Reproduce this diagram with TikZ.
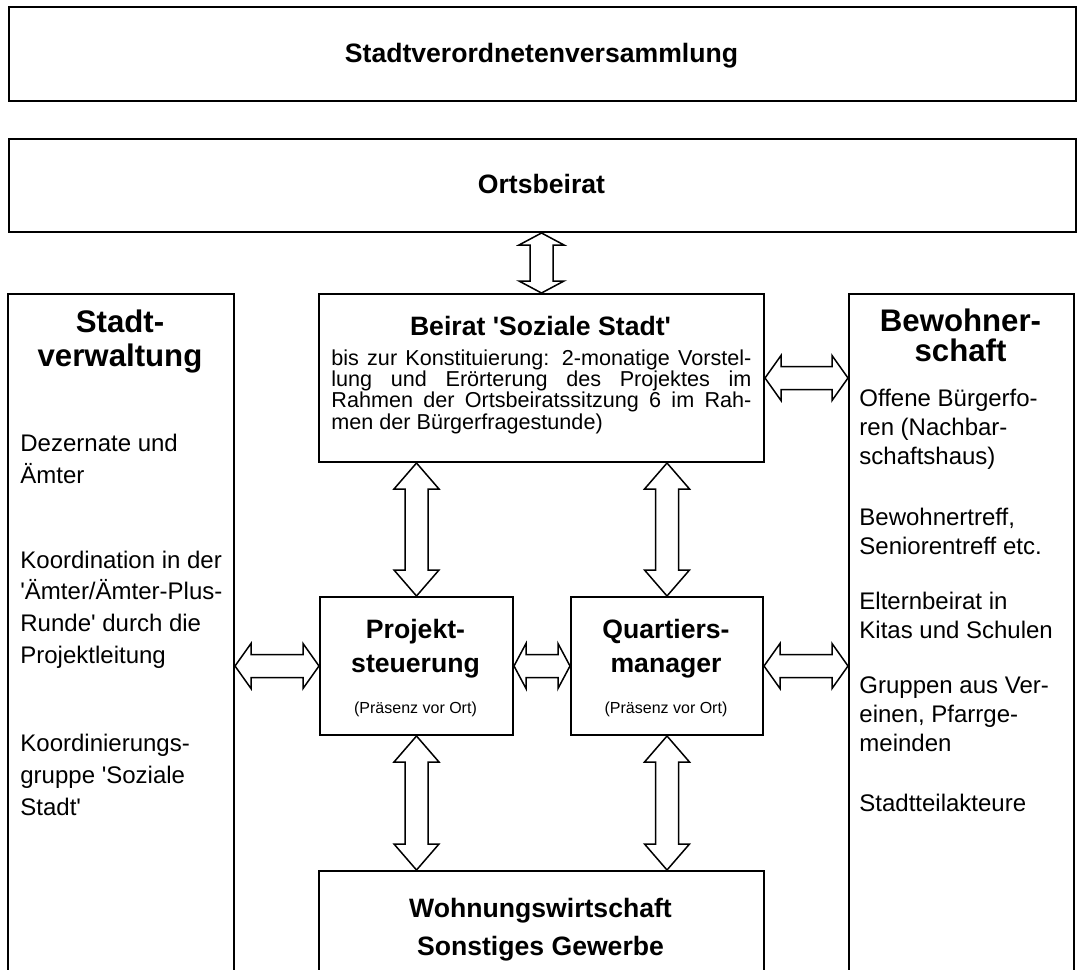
\documentclass[tikz,border=0pt]{standalone}
\usepackage{fontspec}
\setmainfont{Liberation Sans}
\usetikzlibrary{calc}

\newcommand{\titlefont}{\fontsize{13.3pt}{17pt}\selectfont\bfseries}
\newcommand{\headfont}{\fontsize{15.6pt}{17pt}\selectfont\bfseries}
\newcommand{\listfont}{\fontsize{12pt}{15.8pt}\selectfont}
\newcommand{\listfontr}{\fontsize{12pt}{14.5pt}\selectfont}
\newcommand{\bodyfont}{\fontsize{10.8pt}{10.6pt}\selectfont}
\newcommand{\notefont}{\fontsize{8pt}{9pt}\selectfont}
\newcommand{\sq}{\textquotesingle}

% hollow double block arrow: #1 head length, #2 from, #3 to
\newcommand{\dblarrow}[3]{%
  \draw[hollow] (#2)
    -- ($(#2)!#1!(#3)!11.25pt!90:(#3)$)
    -- ($(#2)!#1!(#3)!5.75pt!90:(#3)$)
    -- ($(#3)!#1!(#2)!5.75pt!-90:(#2)$)
    -- ($(#3)!#1!(#2)!11.25pt!-90:(#2)$)
    -- (#3)
    -- ($(#3)!#1!(#2)!11.25pt!90:(#2)$)
    -- ($(#3)!#1!(#2)!5.75pt!90:(#2)$)
    -- ($(#2)!#1!(#3)!5.75pt!-90:(#3)$)
    -- ($(#2)!#1!(#3)!11.25pt!-90:(#3)$)
    -- cycle;}

\begin{document}
\begin{tikzpicture}[x=0.5pt,y=-0.5pt]
    % Define styles
    \tikzset{box/.style={draw,line width=1pt,inner sep=0pt,anchor=north west},
             title/.style={font=\titlefont,inner sep=0pt,anchor=base,align=center},
             head/.style={font=\headfont,inner sep=0pt,anchor=base,align=center},
             item/.style={font=\listfont,inner sep=0pt,anchor=base west,align=left},
             itemr/.style={item,font=\listfontr},
             note/.style={font=\notefont,inner sep=0pt,anchor=base},
             hollow/.style={draw,fill=white,line width=0.75pt,line join=miter}}

    \useasboundingbox (0,0) rectangle (1080,969);
    \fill[white] (0,0) rectangle (1080,969);
    \clip (0,0) rectangle (1080,969);

    % Draw boxes
    \node[box,minimum width=533.5pt,minimum height=47pt] (versamm) at (8,6) {};
    \node[box,minimum width=533.5pt,minimum height=46.5pt] (orts) at (8,138) {};
    \node[box,minimum width=113pt,minimum height=360pt] (verwaltung) at (7,293) {};
    \node[box,minimum width=112.5pt,minimum height=360pt] (bewohner) at (848,293) {};
    \node[box,minimum width=222.5pt,minimum height=84pt] (beirat) at (318,293) {};
    \node[box,minimum width=96.5pt,minimum height=69pt] (projekt) at (319,596) {};
    \node[box,minimum width=96pt,minimum height=69pt] (quartier) at (570,596) {};
    \node[box,minimum width=222.5pt,minimum height=75pt] (wohnung) at (318,870) {};

    % Titles (base = last line)
    \node[title] (versammtxt) at (541.5,62) {Stadtverordnetenversammlung};
    \node[title] (ortstxt) at (541.5,193) {Ortsbeirat};
    \node[title] (beirattxt) at (540.5,335) {Beirat \sq Soziale Stadt\sq};
    \node[title] (projekttxt) at (415.5,672) {Projekt-\\steuerung};
    \node[title] (quartiertxt) at (666,672) {Quartiers-\\manager};
    \node[title] (wohnungtxt) at (540.5,955) {Wohnungswirtschaft\\[2pt]Sonstiges Gewerbe};
    \node[note] (projektnote) at (415.5,713) {(Präsenz vor Ort)};
    \node[note] (quartiernote) at (666,713) {(Präsenz vor Ort)};

    \node[font=\bodyfont,inner sep=0pt,anchor=base west,align=left] (beiratbody) at (331,429)
        {\makebox[210pt][s]{bis zur Konstituierung: 2-monatige Vorstel-}\\
         \makebox[210pt][s]{lung und Erörterung des Projektes im}\\
         \makebox[210pt][s]{Rahmen der Ortsbeiratssitzung 6 im Rah-}\\
         men der Bürgerfragestunde)};

    % Stadtverwaltung column
    \node[head] (verwaltungtxt) at (120,366) {Stadt-\\verwaltung};
    \node[item] (dezernate) at (20,483.3) {Dezernate und\\Ämter};
    \node[item] (koordination) at (20,663) {Koordination in der\\\sq Ämter/Ämter-Plus-\\Runde\sq{} durch die\\Projektleitung};
    \node[item] (kgruppe) at (20,815) {Koordinierungs-\\gruppe \sq Soziale\\Stadt\sq};

    % Bewohnerschaft column
    \node[head,font=\fontsize{15.6pt}{15pt}\selectfont\bfseries] (bewohnertxt) at (960.5,361) {Bewohner-\\schaft};
    \node[itemr] (foren) at (859,464.5) {Offene Bürgerfo-\\ren (Nachbar-\\schaftshaus)};
    \node[itemr] (treff) at (859,554.5) {Bewohnertreff,\\Seniorentreff etc.};
    \node[itemr] (eltern) at (859,638.5) {Elternbeirat in\\Kitas und Schulen};
    \node[itemr] (gruppen) at (859,751) {Gruppen aus Ver-\\einen, Pfarrge-\\meinden};
    \node[itemr] (akteure) at (859,811) {Stadtteilakteure};

    % Draw arrows
    \dblarrow{6pt}{orts.south -| beirat.north}{beirat.north}
    \dblarrow{8pt}{beirat.east}{bewohner.west |- beirat.east}
    \foreach \n in {projekt,quartier}
    {
        \dblarrow{13pt}{beirat.south -| \n.north}{\n.north}
        \dblarrow{13pt}{\n.south}{wohnung.north -| \n.south}
    }
    \dblarrow{8pt}{verwaltung.east |- projekt.west}{projekt.west}
    \dblarrow{6pt}{projekt.east}{quartier.west}
    \dblarrow{8pt}{quartier.east}{bewohner.west |- quartier.east}
\end{tikzpicture}
\end{document}
